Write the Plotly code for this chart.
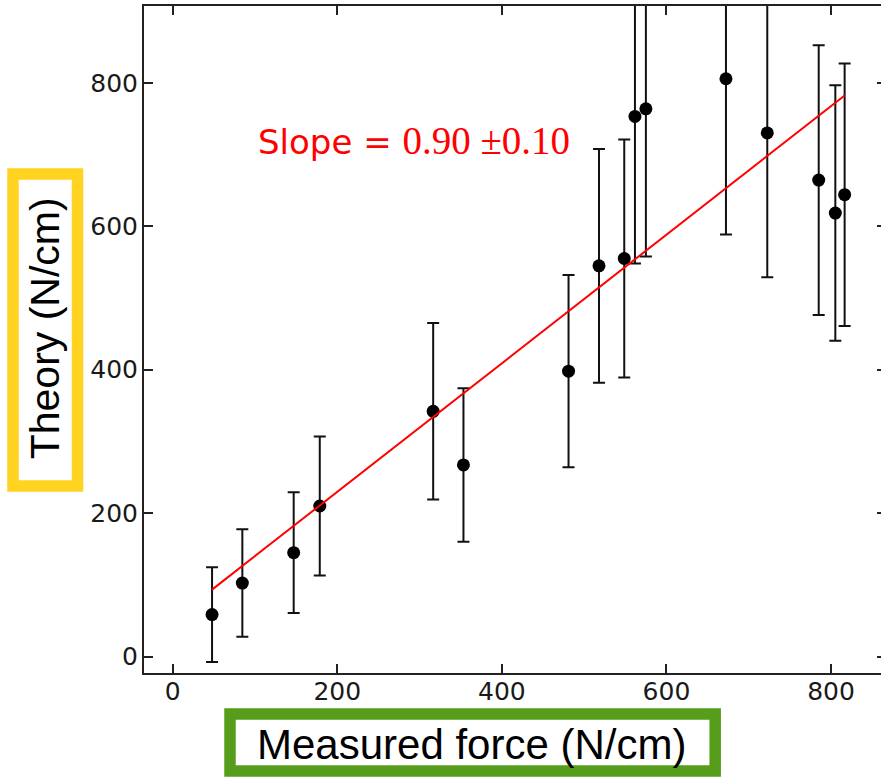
import plotly.graph_objects as go

# ---- data ----
measured = [47.8, 84.6, 147.0, 178.7, 316.5, 353.3, 481.0, 518.0, 548.7, 561.7, 575.0, 672.3, 722.5, 785.0, 805.2, 816.5]
theory = [58.6, 102.6, 145.0, 210.0, 342.0, 267.2, 398.0, 544.8, 555.0, 753.0, 763.7, 805.6, 730.0, 664.3, 618.4, 644.0]
theory_err = [66, 75, 84, 97, 123, 107, 134, 163, 166, 205, 206, 217, 201, 188, 178, 183]
fit_slope = 0.896
fit_intercept = 50.6
slope_text_value = "0.90"
slope_text_err = "0.10"
x_ticks = [0, 200, 400, 600, 800]
y_ticks = [0, 200, 400, 600, 800]
x_label = "Measured force (N/cm)"
y_label = "Theory (N/cm)"

# ---- figure geometry ----
W, H = 881, 778
L, R, T, B = 144, 0, 6, 105
PW, PH = W - L - R, H - T - B


def px(xp):
    return (xp - L) / PW


def py(yp):
    return (H - B - yp) / PH


fig = go.Figure()

fit_x = [min(measured), max(measured)]
fit_y = [fit_slope * v + fit_intercept for v in fit_x]

fig.add_trace(go.Scatter(
    x=measured, y=theory, mode="markers",
    marker=dict(color="black", size=13),
    error_y=dict(type="data", array=theory_err, visible=True,
                 color="#111111", thickness=2, width=6),
    showlegend=False, hoverinfo="skip", cliponaxis=True,
))
fig.add_trace(go.Scatter(
    x=fit_x, y=fit_y, mode="lines",
    line=dict(color="#ff0000", width=2),
    showlegend=False, hoverinfo="skip",
))
# invisible trace to activate the right-hand (mirrored) tick axis
fig.add_trace(go.Scatter(x=[measured[0]], y=[theory[0]], yaxis="y2", mode="markers",
                         marker=dict(opacity=0), showlegend=False, hoverinfo="skip"))

tickfont = dict(family="DejaVu Sans", size=25, color="#1a1a1a")
fig.update_layout(
    width=W, height=H,
    margin=dict(l=L, r=R, t=T, b=B, pad=0),
    paper_bgcolor="white", plot_bgcolor="white",
    xaxis=dict(range=[-34.9, 860.7], tickvals=x_ticks, ticks="inside", ticklen=9,
               tickwidth=1.5, tickcolor="#222", showline=True, linecolor="#222",
               linewidth=2, mirror="ticks", showgrid=False, zeroline=False,
               tickfont=tickfont, ticklabelstandoff=-5),
    yaxis=dict(range=[-22.8, 907], tickvals=y_ticks, ticks="inside", ticklen=9,
               tickwidth=1.5, tickcolor="#222", showline=True, linecolor="#222",
               linewidth=2, showgrid=False, zeroline=False,
               tickfont=tickfont, ticklabelstandoff=-1),
    yaxis2=dict(range=[-22.8, 907], tickvals=y_ticks, overlaying="y", side="right",
                ticks="inside", ticklen=4, tickwidth=1.5, tickcolor="#222",
                showticklabels=False, showline=False, showgrid=False, zeroline=False),
)

# label boxes
fig.add_shape(type="rect", xref="paper", yref="paper",
              x0=px(13.0), x1=px(77.5), y0=py(486.0), y1=py(174.0),
              line=dict(color="#ffd320", width=11.5), fillcolor="white", layer="above")
fig.add_shape(type="rect", xref="paper", yref="paper",
              x0=px(230.0), x1=px(715.2), y0=py(771.0), y1=py(714.0),
              line=dict(color="#579d1c", width=11.5), fillcolor="white", layer="above")

fig.add_annotation(xref="paper", yref="paper", x=px(45.3), y=py(328.0),
                   text=y_label, textangle=-90, showarrow=False,
                   xanchor="center", yanchor="middle",
                   font=dict(family="Liberation Sans", size=41, color="black"))
fig.add_annotation(xref="paper", yref="paper", x=px(471.5), y=py(744.0),
                   text=x_label, showarrow=False,
                   xanchor="center", yanchor="middle",
                   font=dict(family="Liberation Sans", size=42, color="black"))

slope_html = ("Slope = <span style=\"font-family:'Liberation Serif';font-size:39px\">"
              + slope_text_value + " \u00b1" + slope_text_err + "</span>")
fig.add_annotation(xref="x", yref="y", x=101, y=719, text=slope_html, showarrow=False,
                   xanchor="left", yanchor="middle",
                   font=dict(family="DejaVu Sans", size=34, color="#ff0000"))

fig.write_html("out.html", config={"displayModeBar": False},
               post_script="document.body.style.margin='0';document.body.style.overflow='hidden';")
